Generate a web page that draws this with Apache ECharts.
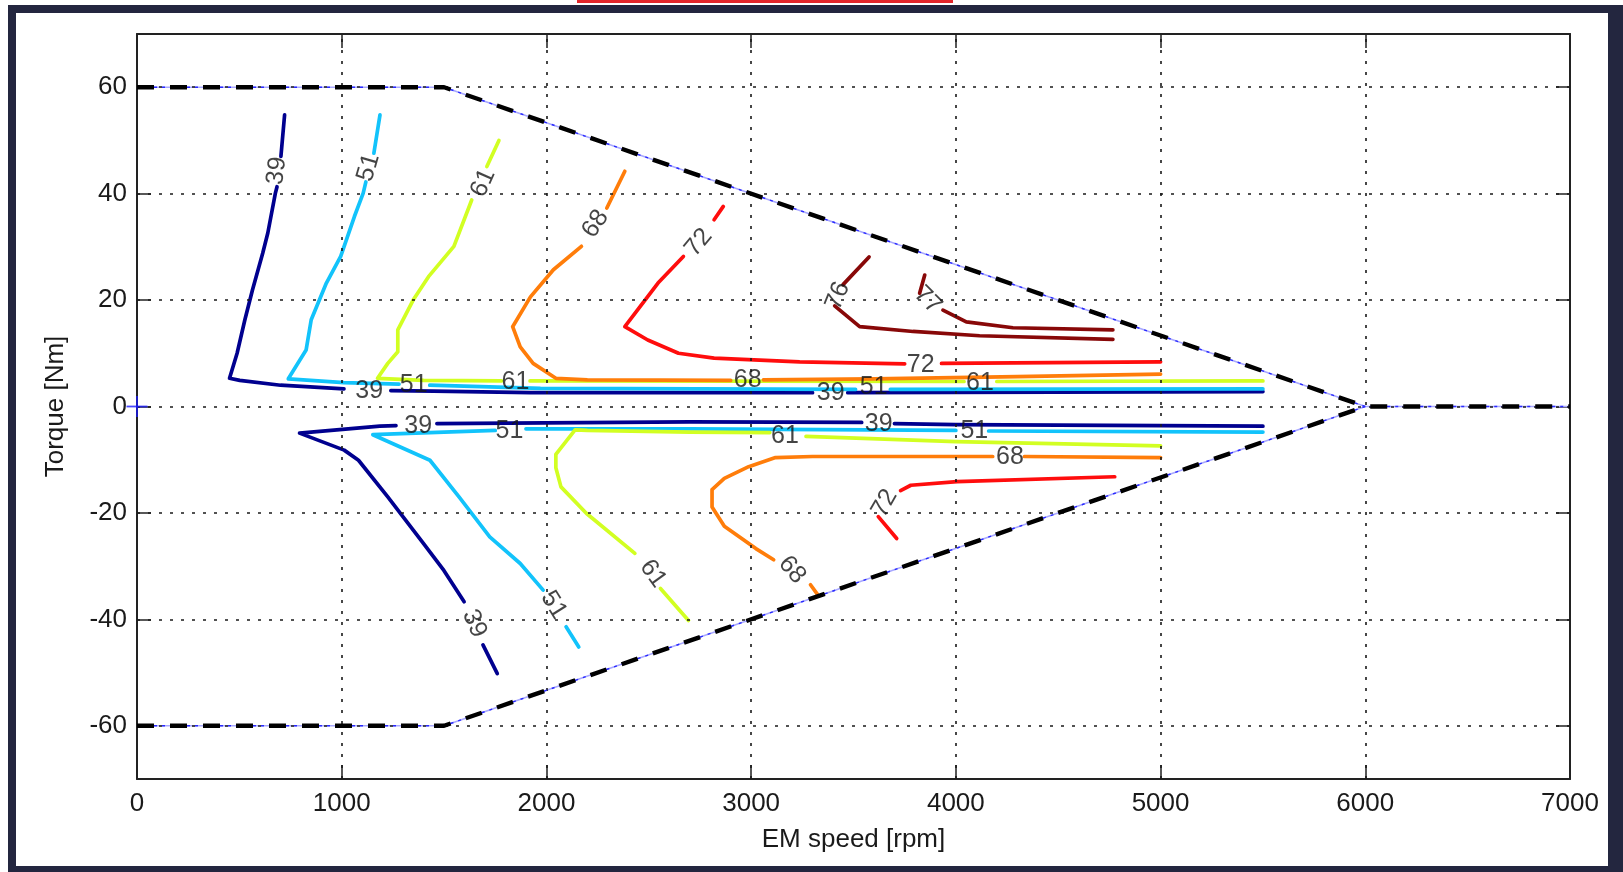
<!DOCTYPE html>
<html>
<head>
<meta charset="utf-8">
<script src="https://cdn.jsdelivr.net/npm/echarts@6/dist/echarts.min.js"></script>
<style>
html,body{margin:0;padding:0;background:#fff;}
#chart{width:1623px;height:872px;}
</style>
</head>
<body>
<div id="chart"></div>
<script>
// ---------- data (EM speed [rpm], torque [Nm]) ----------
const G = null; // break in a contour where its inline label sits

const xTicks = [0, 1000, 2000, 3000, 4000, 5000, 6000, 7000];
const yTicks = [-60, -40, -20, 0, 20, 40, 60];

// torque limit envelope
const limitUpper = [[0, 60], [1500, 60], [6000, 0], [7000, 0]];
const limitLower = [[0, -60], [1500, -60], [6000, 0]];

// origin marker
const originPoint = [[0, 0]];

// efficiency contours, motoring (positive torque)
const eff39Up = [[721,54.8],[703,47.0],G,[684,41.3],[676,40.1],[639,32.6],[614,28.8],[564,21.9],[527,16.3],[489,10.0],[452,5.3],[502,4.9],[701,4.0],[1011,3.3],G,[1240,3.0],[1449,2.9],[1922,2.6],[3300,2.6],G,[3472,2.6],[5500,2.8]];
const eff51Up = [[1187,54.8],[1157,47.6],G,[1118,42.2],[1105,40.1],[1062,35.7],[995,28.2],[925,23.2],[851,16.3],[826,10.6],[739,5.2],[1011,4.5],[1280,4.2],G,[1430,4.0],[1971,3.4],[3510,3.2],G,[3680,3.2],[5500,3.3]];
const eff61Up = [[1768,50.0],[1709,45.1],G,[1635,38.8],[1548,30.1],[1424,24.4],[1349,20.0],[1274,14.4],[1274,10.3],[1225,8.1],[1175,5.3],[1400,4.9],[1780,4.8],G,[1920,4.8],[4040,4.7],G,[4200,4.7],[5500,4.8]];
const eff68Up = [[2383,44.2],[2295,37.3],G,[2171,30.1],[2034,25.7],[1922,20.6],[1835,15.0],[1872,11.2],[1935,8.1],[2046,5.3],[2200,5.0],[2900,4.9],G,[3060,5.0],[3600,5.2],[4300,5.6],[5000,6.1]];
const eff72Up = [[2864,37.6],[2819,35.1],G,[2669,28.2],[2545,23.2],[2383,15.0],[2495,12.5],[2645,10.0],[2819,9.1],[3237,8.4],[3750,8.0],G,[3930,8.1],[5000,8.4]];
const eff76Up = [[3576,28.1],[3449,22.9],G,[3408,18.9],[3530,15.0],[3791,14.1],[4116,13.3],[4767,12.6]];
const eff77Up = [[3848,24.7],[3823,21.3],G,[3937,18.1],[4051,15.9],[4279,14.8],[4767,14.4]];

// efficiency contours, generating (negative torque)
const eff39Low = [[5500,-3.7],[4000,-3.4],[3700,-3.2],G,[3540,-3.0],[2700,-2.9],[1465,-3.2],G,[1265,-3.6],[1186,-3.7],[794,-5.0],[1012,-8.2],[1082,-10.1],[1225,-17.0],[1399,-25.7],[1499,-30.8],[1598,-36.7],G,[1690,-44.8],[1760,-50.2]];
const eff51Low = [[5500,-4.8],[4160,-4.6],G,[4000,-4.5],[2700,-4.2],[1900,-4.2],G,[1750,-4.5],[1500,-4.8],[1152,-5.3],[1431,-10.1],[1573,-17.0],[1723,-24.5],[1872,-29.5],[1984,-34.5],G,[2096,-41.4],[2158,-45.2]];
const eff61Low = [[5000,-7.4],[4000,-6.6],[3268,-5.6],G,[3091,-4.9],[2700,-4.8],[2200,-4.5],[2140,-4.4],[2046,-9.0],[2046,-11.5],[2071,-15.1],[2196,-20.1],[2432,-27.6],G,[2557,-34.2],[2694,-40.2]];
const eff68Low = [[5000,-9.6],[4335,-9.4],G,[4180,-9.4],[3300,-9.4],[3119,-9.6],[2988,-11.3],[2869,-13.5],[2809,-15.6],[2809,-18.9],[2869,-22.5],[3023,-26.7],[3110,-28.8],G,[3290,-33.5],[3324,-35.3]];
const eff72Low = [[4776,-13.2],[4006,-14.1],[3780,-14.8],[3730,-15.8],G,[3621,-20.7],[3711,-24.8]];

// inline contour labels: [text, rpm, Nm]
const contourLabels = [
  ['39',683,44.3],['51',1131,44.9],['61',1691,42.0],['68',2240,34.3],['72',2744,30.8],
  ['76',3424,20.8],['77',3862,20.0],
  ['39',1134,2.8],['51',1352,4.0],['61',1849,4.5],['68',2983,5.0],['39',3389,2.5],
  ['51',3599,3.7],['72',3828,7.8],['61',4118,4.4],
  ['39',1374,-3.7],['51',1819,-4.7],['61',3165,-5.5],['39',3623,-3.3],['51',4090,-4.6],['68',4264,-9.6],
  ['39',1648,-40.8],['51',2035,-37.3],['61',2520,-31.4],['68',3200,-30.7],['72',3652,-18.2]
];
const contourLabelAngle = [83,74,66,56,50,68,-45, 0,0,0,0,0,0,0,0, 0,0,0,0,0,0, -67,-58,-54,-50,60];

// ---------- styling ----------
const FONT = 'Liberation Sans, Arial, sans-serif';
const levelColor = {
  '39': '#00008f', '51': '#12c3fb', '61': '#d2ff22', '68': '#ff7d0a',
  '72': '#ff0d0d', '76': '#880808', '77': '#880808'
};
const contours = [
  ['39', eff39Up], ['39', eff39Low],
  ['51', eff51Up], ['51', eff51Low],
  ['61', eff61Up], ['61', eff61Low],
  ['68', eff68Up], ['68', eff68Low],
  ['72', eff72Up], ['72', eff72Low],
  ['76', eff76Up], ['77', eff77Up]
];
const withBreaks = arr => arr.map(p => p === null ? ['-', '-'] : p);

const series = [];

// dotted grid
series.push({
  type: 'line', data: [], silent: true, z: 1,
  markLine: {
    silent: true, symbol: ['none', 'none'], animation: false,
    label: { show: false },
    lineStyle: { type: [3, 8], color: '#1a1a1a', width: 1.6 },
    emphasis: { disabled: true },
    data: xTicks.slice(1, -1).map(v => ({ xAxis: v }))
      .concat(yTicks.map(v => ({ yAxis: v })))
  }
});

contours.forEach(([lvl, pts]) => {
  series.push({
    type: 'line', name: lvl, data: withBreaks(pts),
    showSymbol: false, symbol: 'none', connectNulls: false,
    lineStyle: { color: levelColor[lvl], width: 3.7, cap: 'round', join: 'round' },
    z: 3, silent: true
  });
});

// envelope: thin blue dash-dot line under thick black dashes
[limitUpper, limitLower].forEach(pts => {
  series.push({
    type: 'line', data: pts, showSymbol: false, symbol: 'none', silent: true, z: 4,
    lineStyle: { color: '#a9a9ff', width: 1.6 }
  });
  series.push({
    type: 'line', data: pts, showSymbol: false, symbol: 'none', silent: true, z: 5,
    lineStyle: { color: '#2b2bff', width: 1.4, type: [20, 5, 3, 5] }
  });
  series.push({
    type: 'line', data: pts, showSymbol: false, symbol: 'none', silent: true, z: 6,
    lineStyle: { color: '#000', width: 4.4, type: [17, 16], cap: 'butt' }
  });
});

// contour labels
series.push({
  type: 'scatter', silent: true, z: 8, symbolSize: 1,
  itemStyle: { color: 'rgba(0,0,0,0)' },
  data: contourLabels.map((l, i) => ({
    value: [l[1], l[2]],
    label: { formatter: l[0], rotate: contourLabelAngle[i] }
  })),
  label: {
    show: true, position: 'inside', color: '#151515',
    fontFamily: FONT, fontSize: 25, align: 'center', verticalAlign: 'middle'
  }
});

// blue "+" origin marker (two thin bars)
[[21, 1.8], [1.8, 21]].forEach(sz => {
  series.push({
    type: 'scatter', silent: true, z: 20, zlevel: 1, clip: false,
    data: originPoint, symbol: 'rect', symbolSize: sz,
    itemStyle: { color: '#1a1aff' }
  });
});

const axisLineStyle = { color: '#222', width: 2 };
const tickStyle = { color: '#222', width: 1.5 };
const plain = v => String(v);

const option = {
  animation: false,
  backgroundColor: '#fff',
  textStyle: { fontFamily: FONT },
  graphic: { elements: [
    { type: 'rect', z: -30, shape: { x: 8, y: 5, width: 1615, height: 867 }, style: { fill: '#23263f' } },
    { type: 'rect', z: -29, shape: { x: 16, y: 13, width: 1592, height: 853 }, style: { fill: '#ffffff' } },
    { type: 'rect', z: -28, shape: { x: 577, y: 0, width: 376, height: 3 }, style: { fill: '#e3262b' } }
  ]},
  grid: { left: 137, right: 53, top: 34, bottom: 93, containLabel: false },
  xAxis: [
    {
      type: 'value', min: 0, max: 7000, interval: 1000, position: 'bottom',
      name: 'EM speed [rpm]', nameLocation: 'middle', nameGap: 48,
      nameTextStyle: { fontSize: 26, color: '#1a1a1a', fontFamily: FONT },
      axisLine: { show: true, onZero: false, lineStyle: axisLineStyle },
      axisTick: { show: true, inside: true, length: 14, lineStyle: tickStyle },
      axisLabel: { fontSize: 26, color: '#1a1a1a', margin: 12, fontFamily: FONT, formatter: plain },
      splitLine: { show: false }
    },
    {
      type: 'value', min: 0, max: 7000, interval: 1000, position: 'top',
      axisLine: { show: true, onZero: false, lineStyle: axisLineStyle },
      axisTick: { show: true, inside: true, length: 14, lineStyle: tickStyle },
      axisLabel: { show: false }, splitLine: { show: false }
    }
  ],
  yAxis: [
    {
      type: 'value', min: -70, max: 70, position: 'left',
      name: 'Torque [Nm]', nameLocation: 'middle', nameGap: 68, nameRotate: 90,
      nameTextStyle: { fontSize: 26, color: '#1a1a1a', fontFamily: FONT },
      axisLine: { show: true, onZero: false, lineStyle: axisLineStyle },
      axisTick: { show: true, inside: true, length: 14, lineStyle: tickStyle, customValues: yTicks },
      axisLabel: { fontSize: 26, color: '#1a1a1a', margin: 10, fontFamily: FONT, customValues: yTicks, formatter: plain },
      splitLine: { show: false }
    },
    {
      type: 'value', min: -70, max: 70, position: 'right',
      axisLine: { show: true, onZero: false, lineStyle: axisLineStyle },
      axisTick: { show: true, inside: true, length: 14, lineStyle: tickStyle, customValues: yTicks },
      axisLabel: { show: false, customValues: yTicks }, splitLine: { show: false }
    }
  ],
  series: series
};

const chart = echarts.init(document.getElementById('chart'), null, { renderer: 'canvas' });
chart.setOption(option);
</script>
</body>
</html>
